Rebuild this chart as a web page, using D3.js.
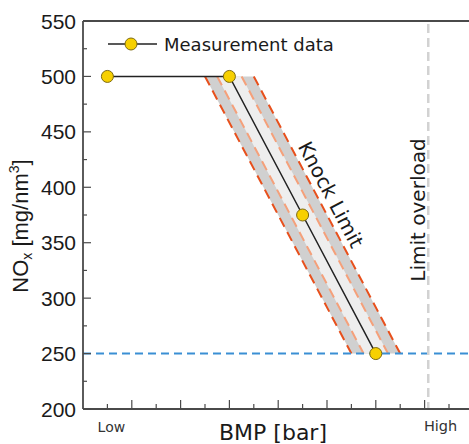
<!DOCTYPE html>
<html><head><meta charset="utf-8">
<script src="https://cdn.jsdelivr.net/npm/d3@7"></script>
<style>body{margin:0;background:#fff;}svg{display:block;}</style>
</head><body>
<svg id="c" width="469" height="444"></svg>
<script>
// ---- data ----
const mX = [1, 6, 9, 12];          // BMP (relative units) of measurement points
const mY = [500, 500, 375, 250];   // NOx values
const bY = [500, 250];             // knock band top / bottom NOx
const bC = [6, 12];                // knock band centre BMP at top / bottom
const outerW = 1, innerW = 0.5;    // band half-widths
const noxLimit = 250;
const overloadX = 14.15;
const yTicks = [200, 250, 300, 350, 400, 450, 500, 550];
const yMinorTicks = [225, 275, 325, 375, 425, 475, 525];
const xTickVals = [1, 2, 3, 4, 5, 6, 7, 8, 9, 10, 11, 12, 13, 14, 15, 16];
const labels = {low: "Low", high: "High", xTitle: "BMP [bar]", knock: "Knock Limit", overload: "Limit overload", legend: "Measurement data"};

const svg = d3.select("#c");
const x = d3.scaleLinear().domain([0, 16]).range([83, 83 + 16 * 24.4]);
const y = d3.scaleLinear().domain([200, 550]).range([409, 21]);
const axisCol = "#4a4a4a";

// band polygons
function poly(w) {
  return [[bC[0] - w, bY[0]], [bC[0] + w, bY[0]], [bC[1] + w, bY[1]], [bC[1] - w, bY[1]]]
    .map(p => [x(p[0]), y(p[1])]);
}
const line = d3.line();
svg.append("path").attr("d", line(poly(outerW)) + "Z").attr("fill", "#d0d0d0");
svg.append("path").attr("d", line(poly(innerW)) + "Z").attr("fill", "#eeeeee");
function edge(off, col, w) {
  svg.append("line")
    .attr("x1", x(bC[0] + off)).attr("y1", y(bY[0]))
    .attr("x2", x(bC[1] + off)).attr("y2", y(bY[1]))
    .attr("stroke", col).attr("stroke-width", w).attr("stroke-dasharray", "10,6");
}
edge(-innerW, "#f5a07a", 2);
edge(innerW, "#f5a07a", 2);
edge(-outerW, "#e8501c", 2);
edge(outerW, "#e8501c", 2);

// NOx limit
svg.append("line").attr("x1", x(0)).attr("x2", 469).attr("y1", y(noxLimit)).attr("y2", y(noxLimit))
  .attr("stroke", "#3a8fd4").attr("stroke-width", 2).attr("stroke-dasharray", "8,5");

// overload line
svg.append("line").attr("x1", x(overloadX)).attr("x2", x(overloadX)).attr("y1", y(550) + 3).attr("y2", y(200))
  .attr("stroke", "#d2d2d2").attr("stroke-width", 2.5).attr("stroke-dasharray", "9,5");

// measurement line + markers
svg.append("path").attr("d", d3.line().x((d, i) => x(mX[i])).y((d, i) => y(mY[i]))(mX))
  .attr("fill", "none").attr("stroke", "#222").attr("stroke-width", 1.5);
svg.selectAll("circle.m").data(mX).join("circle").attr("class", "m")
  .attr("cx", (d, i) => x(mX[i])).attr("cy", (d, i) => y(mY[i])).attr("r", 6)
  .attr("fill", "#f7d000").attr("stroke", "#7d6a10").attr("stroke-width", 1);

// axes frame
svg.append("line").attr("x1", x(0)).attr("x2", 469).attr("y1", y(550)).attr("y2", y(550)).attr("stroke", axisCol).attr("stroke-width", 1.8);
svg.append("line").attr("x1", x(0)).attr("x2", 469).attr("y1", y(200)).attr("y2", y(200)).attr("stroke", axisCol).attr("stroke-width", 1.8);
svg.append("line").attr("x1", x(0)).attr("x2", x(0)).attr("y1", y(550)).attr("y2", y(200)).attr("stroke", axisCol).attr("stroke-width", 1.8);

// y ticks
svg.selectAll("line.yt").data(yTicks).join("line").attr("class", "yt")
  .attr("x1", x(0)).attr("x2", x(0) + 8).attr("y1", d => y(d)).attr("y2", d => y(d)).attr("stroke", axisCol).attr("stroke-width", 1.2);
svg.selectAll("line.ym").data(yMinorTicks).join("line").attr("class", "ym")
  .attr("x1", x(0)).attr("x2", x(0) + 4).attr("y1", d => y(d)).attr("y2", d => y(d)).attr("stroke", axisCol).attr("stroke-width", 1.2);
svg.selectAll("text.yl").data(yTicks).join("text").attr("class", "yl")
  .attr("x", x(0) - 7).attr("y", d => y(d)).attr("dy", "0.36em").attr("text-anchor", "end")
  .attr("font-family", "Liberation Sans, Arial, sans-serif").attr("font-size", 21).attr("fill", "#1a1a1a").text(d => d);

// x ticks
svg.selectAll("line.xt").data(xTickVals).join("line").attr("class", "xt")
  .attr("x1", d => x(d)).attr("x2", d => x(d)).attr("y1", y(200)).attr("y2", d => y(200) - (d % 2 === 0 ? 9 : 5))
  .attr("stroke", axisCol).attr("stroke-width", 1.2);

const vf = "DejaVu Sans, Verdana, sans-serif";
svg.append("text").attr("x", x(1) + 4).attr("y", 432).attr("text-anchor", "middle").attr("font-family", vf).attr("font-size", 14).attr("fill", "#333").text(labels.low);
svg.append("text").attr("x", x(14) + 16).attr("y", 431).attr("text-anchor", "middle").attr("font-family", vf).attr("font-size", 14.5).attr("fill", "#333").text(labels.high);
svg.append("text").attr("x", 273).attr("y", 440).attr("text-anchor", "middle").attr("font-family", vf).attr("font-size", 22).attr("fill", "#1a1a1a").text(labels.xTitle);

// y title
const yt = svg.append("text").attr("transform", "translate(28,226) rotate(-90)").attr("text-anchor", "middle")
  .attr("font-family", "Liberation Sans, Arial, sans-serif").attr("font-size", 22).attr("fill", "#1a1a1a");
yt.append("tspan").text("NO");
yt.append("tspan").attr("font-size", 14).attr("dy", 4).text("x");
yt.append("tspan").attr("dy", -4).text(" [mg/nm");
yt.append("tspan").attr("font-size", 14).attr("dy", -9).text("3");
yt.append("tspan").attr("dy", 9).text("]");

// knock limit label
const ang = Math.atan2(y(bY[1]) - y(bY[0]), x(bC[1]) - x(bC[0])) * 180 / Math.PI;
const kY = 388, kX = bC[0] + (bY[0] - kY) / (bY[0] - bY[1]) * (bC[1] - bC[0]) + outerW;
svg.append("text").attr("transform", `translate(${x(kX)},${y(kY)}) rotate(${ang})`).attr("dy", -6)
  .attr("text-anchor", "middle").attr("font-family", vf).attr("font-size", 20).attr("fill", "#1a1a1a").text(labels.knock);

// overload label
svg.append("text").attr("transform", `translate(${x(overloadX) - 3},210) rotate(-90)`)
  .attr("text-anchor", "middle").attr("font-family", vf).attr("font-size", 20).attr("fill", "#1a1a1a").text(labels.overload);

// legend
svg.append("line").attr("x1", 108).attr("x2", 157).attr("y1", 44).attr("y2", 44).attr("stroke", "#222").attr("stroke-width", 1.5);
svg.append("circle").attr("cx", 131).attr("cy", 44).attr("r", 6).attr("fill", "#f7d000").attr("stroke", "#7d6a10");
svg.append("text").attr("x", 164).attr("y", 51).attr("font-family", vf).attr("font-size", 18).attr("fill", "#1a1a1a").text(labels.legend);
</script>
</body></html>
